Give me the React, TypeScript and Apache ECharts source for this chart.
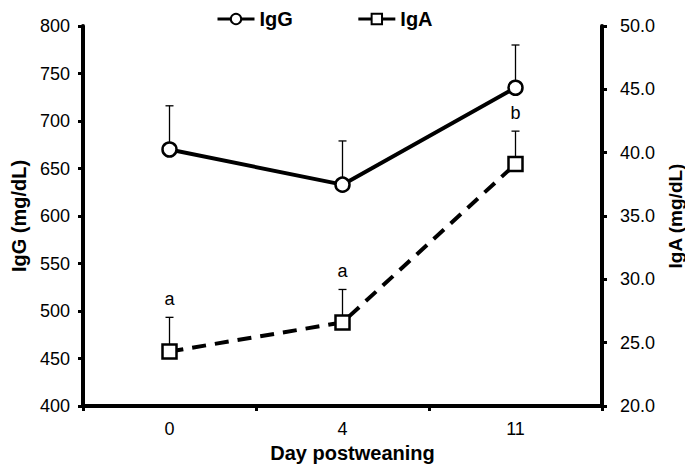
import React, { useEffect, useRef } from "react";
import * as echarts from "echarts";

const categories = ["0", "4", "11"];
const iggMean = [670, 633, 735];
const iggUpper = [716, 679, 780];
const igaMean = [24.3, 26.6, 39.1];
const igaUpper = [27.0, 29.2, 41.7];
const igaLetters = ["a", "a", "b"];

const FONT = "Liberation Sans, Arial, Helvetica, sans-serif";

function errorRender(withLetters: boolean) {
  return (params: any, api: any) => {
    const i = params.dataIndex;
    const x = api.value(0);
    const mean = api.value(1);
    const up = api.value(2);
    const p0 = api.coord([x, mean]);
    const p1 = api.coord([x, up]);
    const children: any[] = [
      {
        type: "line",
        shape: { x1: p0[0], y1: p0[1], x2: p1[0], y2: p1[1] },
        style: { stroke: "#000", lineWidth: 1.3 },
      },
      {
        type: "line",
        shape: { x1: p1[0] - 4, y1: p1[1], x2: p1[0] + 4, y2: p1[1] },
        style: { stroke: "#000", lineWidth: 1.3 },
      },
    ];
    if (withLetters) {
      children.push({
        type: "text",
        x: p1[0],
        y: p1[1] - 18,
        style: {
          text: igaLetters[i],
          fill: "#000",
          font: `18px ${FONT}`,
          align: "center",
          verticalAlign: "middle",
        },
      });
    }
    return { type: "group", children };
  };
}

export default function App() {
  const ref = useRef<HTMLDivElement>(null);
  useEffect(() => {
    if (!ref.current) return;
    const chart = echarts.init(ref.current, null, { renderer: "svg" });
    const axisCommon = {
      axisLine: { show: true, lineStyle: { color: "#000", width: 4 } },
      axisTick: { show: true, length: 5, lineStyle: { color: "#000", width: 3 } },
      splitLine: { show: false },
    };
    chart.setOption({
      animation: false,
      backgroundColor: "#fff",
      textStyle: { fontFamily: FONT },
      grid: {
        left: 83,
        right: 83,
        top: 26,
        bottom: 62,
        containLabel: false,
        outerBoundsMode: "none",
      },
      legend: {
        top: 4,
        left: 211,
        itemWidth: 37,
        itemHeight: 13,
        itemGap: 64,
        lineStyle: { type: "solid", width: 3 },
        textStyle: { fontFamily: FONT, fontSize: 20, fontWeight: "bold", color: "#000" },
        data: ["IgG", "IgA"],
      },
      xAxis: {
        type: "category",
        data: categories,
        boundaryGap: true,
        ...axisCommon,
        axisLabel: { color: "#000", fontSize: 18, margin: 14, fontFamily: FONT },
        name: "Day postweaning",
        nameLocation: "middle",
        nameGap: 37,
        nameTextStyle: {
          color: "#000",
          fontSize: 20,
          fontWeight: "bold",
          fontFamily: FONT,
          padding: [0, 0, 0, 20],
        },
      },
      yAxis: [
        {
          type: "value",
          min: 400,
          max: 800,
          interval: 50,
          position: "left",
          ...axisCommon,
          axisLabel: { color: "#000", fontSize: 18, margin: 13, fontFamily: FONT },
          name: "IgG (mg/dL)",
          nameLocation: "middle",
          nameGap: 54,
          nameTextStyle: { color: "#000", fontSize: 20, fontWeight: "bold", fontFamily: FONT },
        },
        {
          type: "value",
          min: 20,
          max: 50,
          interval: 5,
          position: "right",
          ...axisCommon,
          axisLabel: {
            color: "#000",
            fontSize: 18,
            margin: 18,
            fontFamily: FONT,
            formatter: (v: number) => v.toFixed(1),
          },
          name: "IgA (mg/dL)",
          nameLocation: "middle",
          nameRotate: 90,
          nameGap: 56,
          nameTextStyle: { color: "#000", fontSize: 19, fontWeight: "bold", fontFamily: FONT },
        },
      ],
      series: [
        {
          type: "custom",
          name: "IgG err",
          yAxisIndex: 0,
          z: 1,
          renderItem: errorRender(false),
          data: categories.map((_, i) => [i, iggMean[i], iggUpper[i]]),
        },
        {
          type: "custom",
          name: "IgA err",
          yAxisIndex: 1,
          z: 1,
          renderItem: errorRender(true),
          data: categories.map((_, i) => [i, igaMean[i], igaUpper[i]]),
        },
        {
          type: "line",
          name: "IgG",
          yAxisIndex: 0,
          z: 3,
          data: iggMean,
          symbol: "circle",
          symbolSize: 14,
          lineStyle: { color: "#000", width: 4 },
          itemStyle: { color: "#fff", borderColor: "#000", borderWidth: 2.5 },
        },
        {
          type: "line",
          name: "IgA",
          yAxisIndex: 1,
          z: 3,
          data: igaMean,
          symbol: "rect",
          symbolSize: 14,
          lineStyle: { color: "#000", width: 4, type: [14, 9] },
          itemStyle: { color: "#fff", borderColor: "#000", borderWidth: 2.5 },
        },
      ],
    });
    return () => chart.dispose();
  }, []);
  return (
    <div
      ref={ref}
      style={{ position: "fixed", left: 0, top: 0, width: 685, height: 468 }}
    />
  );
}
